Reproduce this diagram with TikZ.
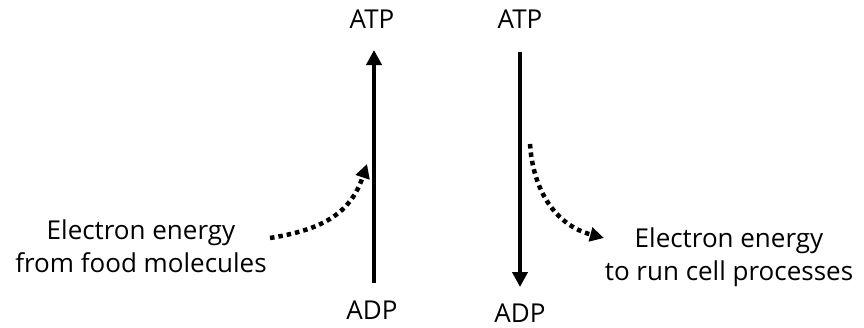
\documentclass[tikz,border=0pt]{standalone}
\usepackage{fontspec}
\setmainfont{Open Sans}
\usetikzlibrary{arrows.meta}
\begin{document}
\begin{tikzpicture}[x=1pt,y=-1pt,
  lbl/.style={font=\fontsize{26}{33}\selectfont, align=center, inner sep=0pt},
  main/.style={line width=4.5pt, -{Triangle[length=15pt,width=15pt]}},
  dots/.style={line width=4.5pt, dash pattern=on 4.5pt off 4pt, -{Triangle[length=14pt,width=14pt]}}]
\useasboundingbox (0,0) rectangle (864,327);
\node[lbl] (atp1) at (372,19) {ATP};
\node[lbl] (adp1) at (372,310) {ADP};
\node[lbl] (atp2) at (520,19) {ATP};
\node[lbl] (adp2) at (520,313) {ADP};
\coordinate (a1b) at (374,283);
\coordinate (a1t) at (374,50);
\coordinate (a2t) at (520,52);
\coordinate (a2b) at (520,287);
\draw[main] (a1b) -- (a1t);
\draw[main] (a2t) -- (a2b);
\node[lbl] (t1) at (141,246) {Electron energy\\from food molecules};
\node[lbl] (t2) at (729,257) {Electron energy\\to run cell processes};
\coordinate (d1s) at (270,238);
\coordinate (d1e) at (367,164);
\draw[dots] (d1s) .. controls (320,230) and (350,215) .. (d1e);
\coordinate (d2s) at (530,144);
\coordinate (d2e) at (604,238);
\draw[dots] (d2s) .. controls (533,190) and (555,225) .. (d2e);
\end{tikzpicture}
\end{document}
